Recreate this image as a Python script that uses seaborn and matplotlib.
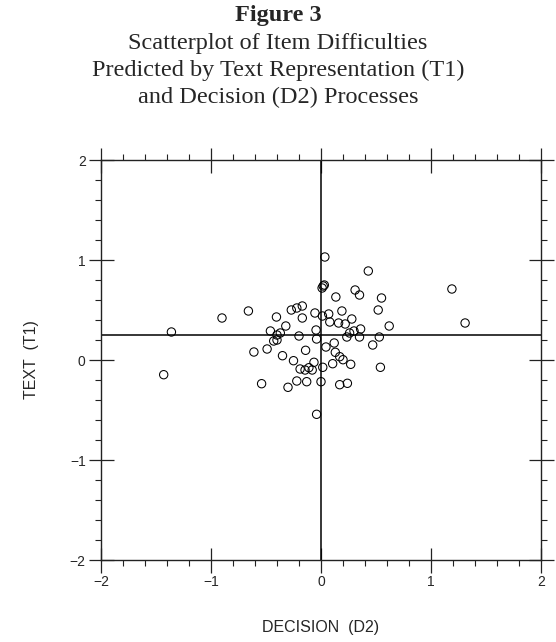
import numpy as np
import pandas as pd
import matplotlib
matplotlib.use("Agg")
import matplotlib.pyplot as plt
from matplotlib.ticker import MultipleLocator
import seaborn as sns

# Data
decision_d2 = [0.035, 0.43, 0.01, 0.02, 0.03, 1.19, 0.31, 0.35, 0.135, 0.55,
               -0.66, -0.90, -0.27, -0.22, -0.17, 0.19, 0.52, -0.405, -0.17, -0.055,
               0.013, 0.07, 0.08, 0.16, 0.22, 0.28, 0.62, 1.31, -1.36, -0.46,
               -0.32, -0.37, -0.40, -0.43, -0.40, -0.20, -0.045, -0.04, 0.26, 0.30,
               0.235, 0.36, 0.35, 0.53, 0.12, 0.045, 0.47, -0.49, -0.61, -0.14,
               0.13, -0.35, 0.17, 0.20, -0.25, -0.064, 0.106, 0.27, 0.016, 0.54,
               -0.19, -0.145, -0.11, -0.08, -1.43, -0.54, -0.22, -0.13, 0.0, -0.30,
               0.17, 0.24, -0.04]
text_t1 = [1.03, 0.89, 0.72, 0.74, 0.75, 0.71, 0.70, 0.65, 0.63, 0.62,
           0.49, 0.42, 0.50, 0.52, 0.54, 0.49, 0.50, 0.43, 0.42, 0.47,
           0.44, 0.46, 0.38, 0.37, 0.36, 0.41, 0.34, 0.37, 0.28, 0.29,
           0.34, 0.27, 0.25, 0.19, 0.20, 0.24, 0.30, 0.21, 0.27, 0.29,
           0.23, 0.31, 0.23, 0.23, 0.17, 0.13, 0.15, 0.11, 0.08, 0.097,
           0.077, 0.043, 0.033, 0.003, -0.007, -0.023, -0.037, -0.043, -0.073, -0.073,
           -0.09, -0.10, -0.077, -0.10, -0.147, -0.237, -0.21, -0.217, -0.217, -0.273,
           -0.247, -0.233, -0.543]
ref_x = 0.0
ref_y = 0.25
tick_values = [-2, -1, 0, 1, 2]

fig_title = "Figure 3"
title_lines = ["Scatterplot of Item Difficulties",
               "Predicted by Text Representation (T1)",
               "and Decision (D2) Processes"]

df = pd.DataFrame({"DECISION (D2)": decision_d2, "TEXT (T1)": text_t1})

sns.set_style("ticks")
plt.rcParams["font.family"] = ["Liberation Sans", "DejaVu Sans"]

fig = plt.figure(figsize=(5.56, 6.42), dpi=100)
ax = fig.add_axes([101/556, 1 - 560/642, 440/556, 400/642])

sns.scatterplot(data=df, x="DECISION (D2)", y="TEXT (T1)", ax=ax,
                marker="o", s=36, facecolor="none", edgecolor="black",
                linewidth=0.75, zorder=3)

ax.axhline(ref_y, color="black", lw=1.1, zorder=2)
ax.axvline(ref_x, color="black", lw=1.1, zorder=2)

ax.set_xlim(-2, 2)
ax.set_ylim(-2, 2)
ax.set_xticks(tick_values)
ax.set_yticks(tick_values)
ax.set_xticklabels([str(v).replace("-", "\u2212") for v in tick_values])
ax.set_yticklabels([str(v).replace("-", "\u2212") for v in tick_values])
ax.xaxis.set_minor_locator(MultipleLocator(0.2))
ax.yaxis.set_minor_locator(MultipleLocator(0.2))
ax.tick_params(which="major", direction="inout", length=18, width=0.9,
               top=True, right=True, labelsize=10, color="#222222", pad=2)
ax.tick_params(which="minor", direction="out", length=4.5, width=0.8,
               top=True, right=True, color="#222222")
for sp in ax.spines.values():
    sp.set_linewidth(1.0)
    sp.set_color("#222222")

ax.set_xlabel("DECISION  (D2)", fontsize=11.5, labelpad=22)
ax.set_ylabel("TEXT  (T1)", fontsize=11.5, labelpad=22)

serif = ["Liberation Serif", "DejaVu Serif"]
fig.text(0.5, 1 - 16/642, fig_title, ha="center", va="center",
         fontsize=17.5, fontweight="bold", family=serif)
for i, line in enumerate(title_lines):
    fig.text(0.5, 1 - (43 + 27*i)/642, line, ha="center", va="center",
             fontsize=17.5, family=serif)

fig.savefig("out.png", dpi=100)
